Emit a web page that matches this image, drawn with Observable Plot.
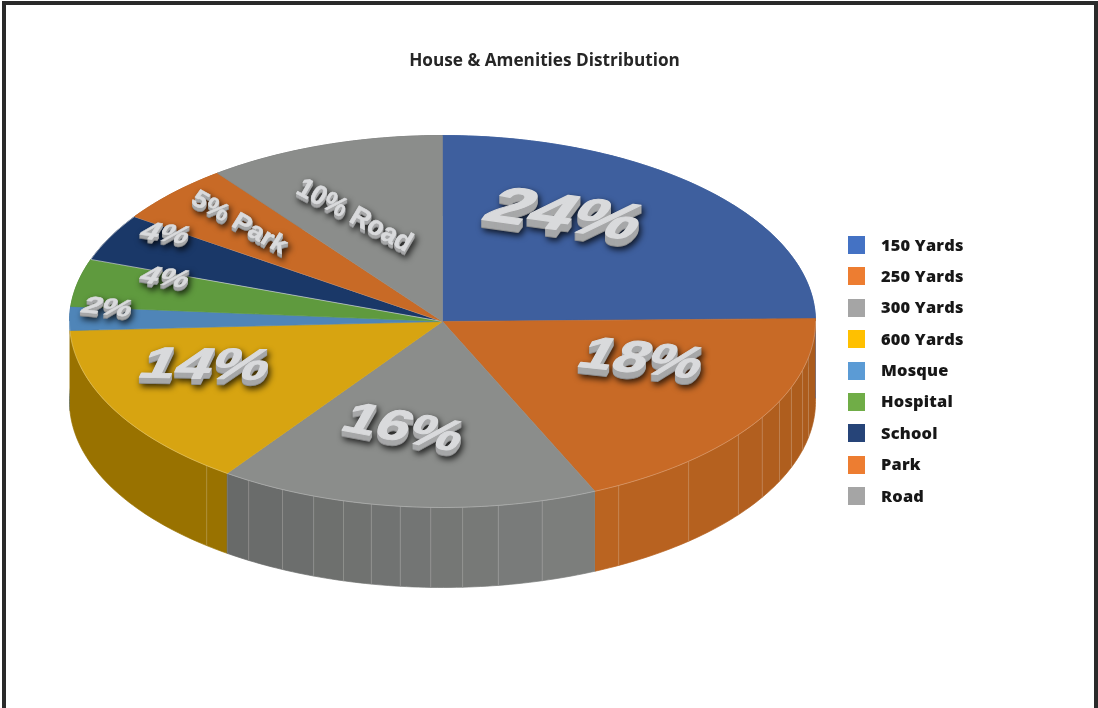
<!DOCTYPE html>
<html>
<head>
<meta charset="utf-8">
<script src="https://cdn.jsdelivr.net/npm/d3@7"></script>
<script src="https://cdn.jsdelivr.net/npm/@observablehq/plot@0.6"></script>
<style>
  html, body { margin: 0; padding: 0; background: #fff; overflow: hidden; }
  #page { position: relative; width: 1098px; height: 708px; overflow: hidden; font-family: "Open Sans", sans-serif; }
  #frame { position: absolute; left: 2px; top: 1px; width: 1088px; height: 760px; border: 4px solid #2a2a2a; box-sizing: content-box; }
  #title { position: absolute; left: 0; width: 1089px; top: 48px; text-align: center; font-weight: 700; font-size: 17.2px; color: #262626; }
  #chart { position: absolute; left: 0; top: 0; }
  #legend { position: absolute; left: 848px; top: 236px; }
  .row { display: flex; align-items: center; height: 18px; margin-bottom: 13.4px; font-weight: 800; font-size: 16.4px; letter-spacing: 0.2px; color: #171717; }
  .row i { display: block; width: 17px; height: 18px; margin-right: 16px; }
  .row span { position: relative; top: -1px; }
</style>
</head>
<body>
<div id="page">
  <div id="chart"></div>
  <div id="frame"></div>
  <div id="title">House &amp; Amenities Distribution</div>
  <div id="legend"></div>
</div>
<script>
// Shares as printed on the pie, clockwise from twelve o'clock.
const categories = ["150 Yards", "250 Yards", "300 Yards", "600 Yards", "Mosque", "Hospital", "School", "Park", "Road"];
const shares = [24, 18, 16, 14, 2, 4, 4, 5, 10];
const namedOnSlice = ["Park", "Road"];

const legendColors = ["#4472c4", "#ed7d31", "#a5a5a5", "#ffc000", "#5b9bd5", "#70ad47", "#264478", "#ed7d31", "#a5a5a5"];
const topColors = ["#3e5f9e", "#c86a26", "#8b8d8b", "#d7a411", "#4f85b8", "#5f9a3e", "#1a3868", "#c86a26", "#8b8d8b"];
const wallFrom = ["#3e5f9e", "#a85a1c", "#7e807e", "#997200", "#3d6d9c", "#4d7f30", "#152c52", "#a85a1c", "#6b6d6b"];
const wallTo = ["#3e5f9e", "#bb6421", "#676968", "#997200", "#3d6d9c", "#4d7f30", "#152c52", "#a85a1c", "#6b6d6b"];

// Where the shaded side wall changes tone, in clock degrees.
const wallSeams = [101.1, 105.1, 110.7, 115.4, 121, 127.5, 138.7, 151.8, 164.5, 171.4, 176.9, 181.8, 186.5, 191, 195.4, 200.2, 205.4, 211.3, 219.2];

// Label placement relative to each slice's middle, and the tilt of each extruded label.
const labelTurn = [-13.3, -4.5, 5.3, 3.6, 1.5, 2.6, 3, -1.6, -6.3];
const labelReach = [0.579, 0.583, 0.652, 0.72, 0.91, 0.782, 0.872, 0.747, 0.587];
const labelFont = [70, 60, 58, 62, 26, 26, 26, 22, 24];
const labelDepth = [8, 7, 6, 6, 4, 4, 4, 4, 4];
const labelTilt = [
  [1.07, 0.15, -0.5, 0.68], [1.0, 0.1, -0.4, 0.72], [1.0, 0.19, -0.4, 0.7],
  [1.03, 0.02, -0.33, 0.7], [1.3, 0.12, -0.5, 0.88], [1.25, 0.15, -0.6, 0.9],
  [1.25, 0.15, -0.6, 0.9], [1.07, 0.6, -0.6, 0.95], [0.97, 0.52, -0.58, 0.98]
];

const wallDepth = 0.43; // thickness of the disc, in radii of the squashed ellipse
const total = d3.sum(shares);
const toRad = Math.PI / 180;

// Slice start and end angles in clock degrees.
const slices = [];
let running = 0;
shares.forEach((share, i) => {
  const start = running / total * 360;
  running += share;
  slices.push({i, start, end: running / total * 360});
});

const rim = (a, drop = 0) => ({x: Math.sin(a * toRad), y: -Math.cos(a * toRad) + drop});
const arc = (a0, a1, drop = 0) => {
  const steps = Math.max(2, Math.ceil(Math.abs(a1 - a0)));
  return d3.range(steps + 1).map(k => rim(a0 + (a1 - a0) * k / steps, drop));
};

// Top faces: fan of each slice from the centre.
const topRows = slices.flatMap(s => [{x: 0, y: 0}, ...arc(s.start, s.end), {x: 0, y: 0}].map(p => ({
  ...p, key: s.i, fill: topColors[s.i],
  edge: categories[s.i] === "School" ? "#e4e6e8" : topColors[s.i]
})));

// Side wall: one quad per tone band, back slices first so the front ones overlap them.
const wallOrder = [...slices].sort((a, b) =>
  Math.abs((b.start + b.end) / 2 - 180) - Math.abs((a.start + a.end) / 2 - 180));
const wallRows = [];
wallOrder.forEach(s => {
  const cuts = [s.start, ...wallSeams.filter(a => a > s.start && a < s.end), s.end];
  const tone = d3.interpolateRgb(wallFrom[s.i], wallTo[s.i]);
  d3.pairs(cuts).forEach(([a0, a1], n) => {
    const fill = tone(((a0 + a1) / 2 - s.start) / (s.end - s.start));
    const stroke = categories[s.i] === "150 Yards" ? topColors[0] : fill;
    [...arc(a0, a1), ...arc(a1, a0, wallDepth)].forEach(p =>
      wallRows.push({...p, key: `${s.i}-${n}`, fill, stroke}));
  });
});

const seamRows = wallSeams.flatMap((a, n) => [rim(a), rim(a, wallDepth)].map(p => ({...p, key: n})));
const frontRim = arc(90, 270);

// Extruded labels: side layers stacked back to front, then the pale face.
const labelRows = slices.flatMap(s => {
  const name = categories[s.i];
  const text = `${shares[s.i]}%${namedOnSlice.includes(name) ? ` ${name}` : ""}`;
  const a = (s.start + s.end) / 2 + labelTurn[s.i];
  const p = rim(a);
  const x = p.x * labelReach[s.i], y = p.y * labelReach[s.i];
  return d3.range(labelDepth[s.i], -1, -1).map(lift => ({
    x, y, text, lift, tilt: labelTilt[s.i], font: labelFont[s.i],
    weight: labelFont[s.i] * 0.022,
    fill: lift === 0 ? "#d9dadc" : lift === labelDepth[s.i] ? "#8c8d8e" : "#a7a8a9"
  }));
});

const tiltLabels = (index, scales, values, dimensions, context, next) => {
  const g = next(index, scales, values, dimensions, context);
  d3.select(g)
    .style("filter", "drop-shadow(2px 3px 3px rgba(0,0,0,0.75))")
    .selectAll("text")
    .attr("transform", i => {
      const r = labelRows[i];
      return `matrix(${r.tilt.join(",")},${values.x[i]},${values.y[i] + r.lift})`;
    });
  return g;
};

const chart = Plot.plot({
  width: 1098,
  height: 708,
  margin: 0,
  x: {domain: [-1, 1], range: [69, 815], axis: null},
  y: {domain: [-1, 1], range: [135, 507], axis: null},
  color: {type: "identity"},
  style: {background: "transparent"},
  marks: [
    Plot.line(wallRows, {x: "x", y: "y", z: "key", fill: "fill", stroke: "stroke", strokeWidth: 0.7}),
    Plot.line(seamRows, {x: "x", y: "y", z: "key", stroke: "#e6e2da", strokeOpacity: 0.22, strokeWidth: 0.9}),
    Plot.line(topRows, {x: "x", y: "y", z: "key", fill: "fill", stroke: "edge", strokeWidth: 0.6}),
    Plot.line(frontRim, {x: "x", y: "y", stroke: "#ffffff", strokeOpacity: 0.35, strokeWidth: 0.7}),
    Plot.text(labelRows, {
      x: "x", y: "y", text: "text", fill: "fill", stroke: "fill", strokeWidth: "weight",
      fontSize: "font", fontFamily: "Liberation Sans", fontWeight: 700,
      textAnchor: "middle", lineAnchor: "bottom",
      render: tiltLabels
    })
  ]
});
document.getElementById("chart").append(chart);

// Legend rows beside the pie.
d3.select("#legend").selectAll(".row").data(categories).join("div")
  .attr("class", "row")
  .html((d, i) => `<i style="background:${legendColors[i]}"></i><span>${d}</span>`);
</script>
</body>
</html>
